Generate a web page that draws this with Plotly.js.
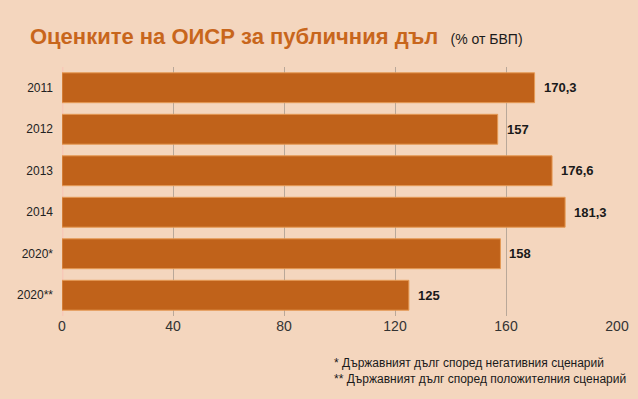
<!DOCTYPE html>
<html><head><meta charset="utf-8">
<script src="https://cdn.plot.ly/plotly-3.0.1.min.js"></script>
<style>html,body{margin:0;padding:0;background:#F4D6BE;}#chart{width:638px;height:399px;}</style>
</head><body><div id="chart"></div>
<script>
var categories = ["2011", "2012", "2013", "2014", "2020*", "2020**"];
var values = [170.3, 157, 176.6, 181.3, 158, 125];
var xTicks = [0, 40, 80, 120, 160, 200];
var titleMain = "Оценките на ОИСР за публичния дъл";
var titleSub = "(% от БВП)";
var notes = ["* Държавният дълг според негативния сценарий", "** Държавният дълг според положителния сценарий"];

var sans = "'Liberation Sans', Arial, sans-serif";
var pos = categories.map(function(c, i){ return i; });

var trace = {
  type: "bar", orientation: "h",
  y: pos, x: values,
  width: 0.72,
  marker: {color: "#C0621A", line: {color: "#E59A55", width: 1}},
  hoverinfo: "skip"
};

var annotations = values.map(function(v, i){
  return {x: v, y: pos[i], xref: "x", yref: "y", text: "<b>" + String(v).replace(".", ",") + "</b>",
    showarrow: false, xanchor: "left", xshift: 7, font: {family: sans, size: 13, color: "#1a1a1a"}};
});
notes.forEach(function(t, i){
  annotations.push({xref: "paper", yref: "paper", x: 0.487, y: -0.188 - i*0.066, xanchor: "left", yanchor: "middle",
    text: t, showarrow: false, font: {family: sans, size: 12, color: "#1a1a1a"}});
});

var layout = {
  width: 638, height: 399,
  paper_bgcolor: "#F4D6BE", plot_bgcolor: "#F4D6BE",
  margin: {l: 62, r: 21, t: 67, b: 83},
  showlegend: false,
  title: {text: "<b>" + titleMain + "</b>  <span style=\"font-size:14px;color:#1a1a1a;font-weight:normal\">" + titleSub + "</span>",
    font: {family: sans, size: 22, color: "#C8661C"},
    xref: "container", yref: "container", x: 0.047, xanchor: "left", y: 0.908, yanchor: "middle"},
  xaxis: {range: [0, 200], tickvals: xTicks, ticktext: xTicks.map(String), showgrid: true, gridcolor: "#B9A899", gridwidth: 1,
    zeroline: false, showline: false, ticks: "", tickfont: {family: sans, size: 14, color: "#333"}, fixedrange: true},
  yaxis: {range: [categories.length - 0.5, -0.5], tickvals: pos, ticktext: categories, showgrid: false, zeroline: false, showline: false, ticks: "",
    ticklabelstandoff: 8, tickfont: {family: sans, size: 12, color: "#222"}, fixedrange: true},
  shapes: [{type: "line", xref: "x", yref: "paper", x0: 0, x1: 0, y0: 0, y1: 1, line: {color: "#F7C9B8", width: 3}, layer: "below"}],
  annotations: annotations
};
Plotly.newPlot("chart", [trace], layout, {displayModeBar: false, staticPlot: true});
</script></body></html>
